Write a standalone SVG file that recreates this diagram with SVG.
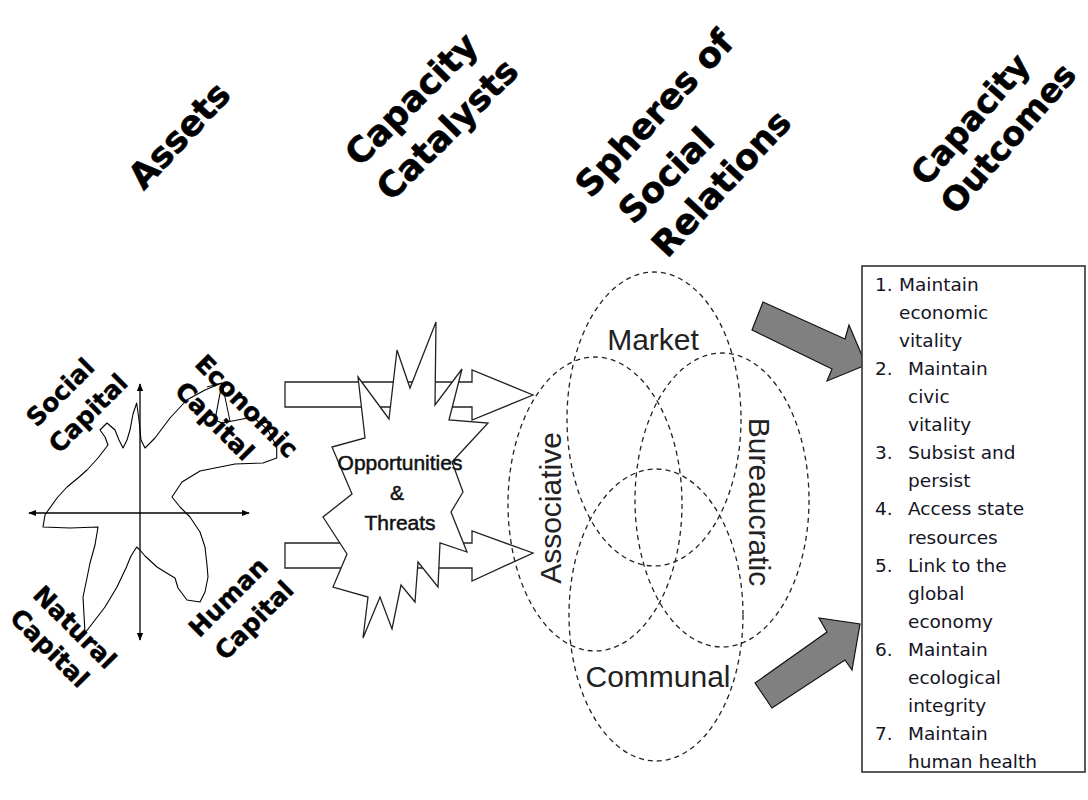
<svg xmlns="http://www.w3.org/2000/svg" width="1088" height="800" viewBox="0 0 1088 800">
<style>
.hdr{font-family:"DejaVu Sans",Verdana,sans-serif;font-weight:bold;font-size:35px;fill:#000;stroke:#000;stroke-width:0.6;text-anchor:middle}
.hdr2{font-size:33px}
.cap{font-family:"DejaVu Sans",Verdana,sans-serif;font-weight:bold;font-size:25px;fill:#000;stroke:#000;stroke-width:0.4;text-anchor:middle}
.sph{font-family:"Liberation Sans",Arial,sans-serif;font-size:30px;fill:#222;text-anchor:middle}
.ot{font-family:"Liberation Sans",Arial,sans-serif;font-size:21px;fill:#111;stroke:#111;stroke-width:0.5;text-anchor:middle}
.lst{font-family:"DejaVu Sans",Tahoma,sans-serif;font-size:18.5px;fill:#141424}
.dash{fill:none;stroke:#222;stroke-width:1.3;stroke-dasharray:5 4}
.wa{fill:#fff;stroke:#222;stroke-width:1.3;stroke-linejoin:miter}
.ga{fill:#808080;stroke:#111;stroke-width:1.2;stroke-linejoin:miter}
.ln{fill:none;stroke:#000;stroke-width:1.3}
</style>
<defs>
<marker id="ah" viewBox="0 0 10 10" refX="9" refY="5" markerWidth="8" markerHeight="8" markerUnits="userSpaceOnUse" orient="auto-start-reverse">
<path d="M0,1 L10,5 L0,9 Z" fill="#000"/>
</marker>
</defs>
<rect width="1088" height="800" fill="#fff"/>

<g id="headers">
<text class="hdr" transform="translate(179 135) rotate(-47)" dy="0.36em">Assets</text>
<text class="hdr" transform="translate(411 99) rotate(-45)" dy="0.36em">Capacity</text>
<text class="hdr" transform="translate(447 129) rotate(-45)" dy="0.36em">Catalysts</text>
<text class="hdr" transform="translate(654 113) rotate(-47)" dy="0.36em">Spheres of</text>
<text class="hdr" transform="translate(666 175) rotate(-45)" dy="0.36em">Social</text>
<text class="hdr" transform="translate(721 183) rotate(-47)" dy="0.36em">Relations</text>
<text class="hdr hdr2" transform="translate(970 119) rotate(-49)" dy="0.36em">Capacity</text>
<text class="hdr hdr2" transform="translate(1008 138) rotate(-49)" dy="0.36em">Outcomes</text>
</g>

<g id="connectors">
<path class="wa" d="M285,382 L472,382 L472,370 L533,395 L472,420 L472,407 L285,407 Z"/>
<path class="wa" d="M285,543 L472,543 L472,531 L533,553 L472,581 L472,568 L285,568 Z"/>
<path class="ga" d="M763,302 L845,339 L849,325 L866,365 L827,381 L832,369 L752,330 Z"/>
<path class="ga" d="M755,683 L827,632 L819,618 L860,624 L852,670 L845,660 L772,708 Z"/>
</g>

<g id="assets">
<line class="ln" x1="140" y1="640" x2="140" y2="384" marker-end="url(#ah)" marker-start="url(#ah)"/>
<line class="ln" x1="29" y1="513" x2="249" y2="513" marker-end="url(#ah)" marker-start="url(#ah)"/>
<path fill="none" stroke="#000" stroke-width="1.1" stroke-linejoin="round" d="M136.7,403 L139,420 L141,440 L145,448 L155,438 L170,418 L186.7,400 L205,390 L222,383 L215,420 L222,423 L253,417 L268,430 L276.7,446.7 L276.7,458 L263,463 L235,464 L200,471 L182,482 L172,497 L180,507 L190,517 L200,532 L205,547 L207,565 L208,577 L205,592 L200,602 L187,600 L178,588 L175,578 L165,572 L157,567 L145,556 L140,550 L136.7,547 L131,556 L126,568 L117,587 L105,607 L85,633 L83,597 L87,578 L90,563 L95,545 L98,527 L70,528 L43,527 L45,515 L47,512 L57,498 L67,487 L78,478 L87,470 L98,458 L108,445 L105,437 L100,430 L107,423 L115,430 L119,440 L123,448 L127,440 L130,430 L133,414 Z"/>
<path fill="none" stroke="#000" stroke-width="1" d="M222,383 L230,421 M207,387 L222,383"/>
<text class="cap" transform="translate(60 392) rotate(-45)" dy="0.36em">Social</text>
<text class="cap" transform="translate(88 413) rotate(-45)" dy="0.36em">Capital</text>
<text class="cap" transform="translate(247 406) rotate(45)" dy="0.36em">Economic</text>
<text class="cap" transform="translate(215 421) rotate(45)" dy="0.36em">Capital</text>
<text class="cap" transform="translate(75 627) rotate(45)" dy="0.36em">Natural</text>
<text class="cap" transform="translate(50 648) rotate(45)" dy="0.36em">Capital</text>
<text class="cap" transform="translate(228 597) rotate(-45)" dy="0.36em">Human</text>
<text class="cap" transform="translate(254 620) rotate(-45)" dy="0.36em">Capital</text>
</g>

<g id="catalysts">
<path class="wa" d="M358,377 L389,419 L397,350 L410,388 L436,322 L435,405 L462,369 L449,420 L488,423 L452,462 L463,492 L451,512 L467,552 L440,543 L438,587 L418,562 L415,602 L401,585 L392,629 L380,597 L363,638 L368,597 L333,587 L347,554 L323,517 L352,494 L332,447 L365,438 Z"/>
<text class="ot" x="400" y="470">Opportunities</text>
<text class="ot" x="397" y="500">&amp;</text>
<text class="ot" x="400" y="530">Threats</text>
</g>

<g id="spheres">
<ellipse class="dash" cx="654" cy="419" rx="87" ry="147"/>
<ellipse class="dash" cx="656" cy="615" rx="87" ry="146"/>
<ellipse class="dash" cx="595" cy="504" rx="87" ry="147"/>
<ellipse class="dash" cx="722" cy="500" rx="87" ry="147"/>
<text class="sph" x="653" y="350">Market</text>
<text class="sph" x="658" y="687">Communal</text>
<text class="sph" transform="translate(561 508) rotate(-90)">Associative</text>
<text class="sph" transform="translate(749 502) rotate(90)">Bureaucratic</text>
</g>

<g id="outcomes">
<rect x="862" y="266" width="223" height="506" fill="#fff" stroke="#333" stroke-width="1.6"/>
<text class="lst">
<tspan x="875" y="291">1.</tspan><tspan x="899" y="291">Maintain</tspan>
<tspan x="899" y="319">economic</tspan>
<tspan x="899" y="347">vitality</tspan>
<tspan x="875" y="375">2.</tspan><tspan x="908" y="375">Maintain</tspan>
<tspan x="908" y="403">civic</tspan>
<tspan x="908" y="431">vitality</tspan>
<tspan x="875" y="459">3.</tspan><tspan x="908" y="459">Subsist and</tspan>
<tspan x="908" y="487">persist</tspan>
<tspan x="875" y="515">4.</tspan><tspan x="908" y="515">Access state</tspan>
<tspan x="908" y="544">resources</tspan>
<tspan x="875" y="572">5.</tspan><tspan x="908" y="572">Link to the</tspan>
<tspan x="908" y="600">global</tspan>
<tspan x="908" y="628">economy</tspan>
<tspan x="875" y="656">6.</tspan><tspan x="908" y="656">Maintain</tspan>
<tspan x="908" y="684">ecological</tspan>
<tspan x="908" y="712">integrity</tspan>
<tspan x="875" y="740">7.</tspan><tspan x="908" y="740">Maintain</tspan>
<tspan x="908" y="768">human health</tspan>
</text>
</g>
</svg>
